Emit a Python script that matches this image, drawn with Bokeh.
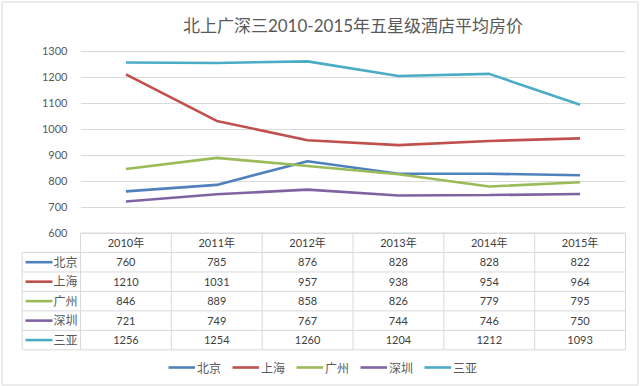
from bokeh.plotting import figure
from bokeh.models import (Range1d, FixedTicker, Legend, LegendItem, ColumnDataSource, Title)
from bokeh.core.properties import value
from bokeh.embed import file_html
from bokeh.resources import INLINE

# ---------------- data ----------------
years = ["2010年", "2011年", "2012年", "2013年", "2014年", "2015年"]
cities = ["北京", "上海", "广州", "深圳", "三亚"]
beijing = [760, 785, 876, 828, 828, 822]
shanghai = [1210, 1031, 957, 938, 954, 964]
guangzhou = [846, 889, 858, 826, 779, 795]
shenzhen = [721, 749, 767, 744, 746, 750]
sanya = [1256, 1254, 1260, 1204, 1212, 1093]
colors = ["#4F81BD", "#C0504D", "#9BBB59", "#8064A2", "#4BACC6"]
y_ticks = [600, 700, 800, 900, 1000, 1100, 1200, 1300]
title_text = "北上广深三2010-2015年五星级酒店平均房价"

series = [beijing, shanghai, guangzhou, shenzhen, sanya]

# ---------------- layout (pixels) ----------------
W, H = 640, 386
FL, FR, FT, FB = 80, 15, 40, 0
FW, FH = W - FL - FR, H - FT - FB
Y_TOP_PX, Y_600_PX = 10.5, 192.5          # positions of 1300 / 600 lines in frame
k = (Y_600_PX - Y_TOP_PX) / (y_ticks[-1] - y_ticks[0])
ROW_PX = 19.47
unit_px = FW / len(years)

FONT = "Lato, 'Noto Sans CJK SC'"
GRID = "#d9d9d9"
TXT = "#404040"

p = figure(width=W, height=H, output_backend="svg", toolbar_location=None,
           x_axis_location=None, min_border_left=FL, min_border_right=FR,
           min_border_top=FT, min_border_bottom=FB,
           x_range=Range1d(0, len(years)),
           y_range=Range1d(y_ticks[0] - (FH - Y_600_PX) / k, y_ticks[-1] + Y_TOP_PX / k),
           outline_line_color=None)
p.extra_y_ranges = {"table": Range1d((FH - Y_600_PX) / ROW_PX, -Y_600_PX / ROW_PX)}

p.title = Title(text=title_text, align="center", text_font_size="17px",
                text_color="#595959", text_font_style="normal", text_font=FONT)

p.yaxis.ticker = FixedTicker(ticks=y_ticks)
p.yaxis.axis_line_color = None
p.yaxis.major_tick_line_color = None
p.yaxis.minor_tick_line_color = None
p.yaxis.major_tick_out = 0
p.yaxis.major_label_standoff = 13
p.yaxis.major_label_text_font_size = "11px"
p.yaxis.major_label_text_color = "#595959"
p.yaxis.major_label_text_font = FONT
p.ygrid.ticker = FixedTicker(ticks=y_ticks)
p.ygrid.grid_line_color = GRID
p.xgrid.visible = False

xc = [i + 0.5 for i in range(len(years))]

# lines
renderers = []
for name, vals, c in zip(cities, series, colors):
    src = ColumnDataSource(dict(x=xc, y=vals))
    r = p.line("x", "y", source=src, line_color=c, line_width=2.6)
    renderers.append(r)

# table
lab_left = -58.3 / unit_px
sw0 = -55.0 / unit_px
sw1 = -28.0 / unit_px
txt0 = -27.0 / unit_px
n = len(cities)

# horizontal borders
p.segment(x0=[0] + [lab_left] * n, x1=[len(years)] * (n + 1),
          y0=list(range(n + 1)), y1=list(range(n + 1)),
          y_range_name="table", line_color=GRID, line_width=1, level="overlay")
# vertical borders
p.segment(x0=list(range(len(years) + 1)) + [lab_left],
          x1=list(range(len(years) + 1)) + [lab_left],
          y0=[0] * (len(years) + 1) + [1], y1=[n + 1] * (len(years) + 2),
          y_range_name="table", line_color=GRID, line_width=1, level="overlay")
p.segment(x0=[lab_left], x1=[len(years)], y0=[n + 1], y1=[n + 1],
          y_range_name="table", line_color=GRID, line_width=1, level="overlay")

p.text(x=xc, y=[0.5] * len(years), text=years, y_range_name="table",
       text_align="center", text_baseline="middle", text_font_size="11px",
       text_color=TXT, text_font=value(FONT))
for j, (name, vals, c) in enumerate(zip(cities, series, colors)):
    p.text(x=xc, y=[j + 1.5] * len(years), text=[str(v) for v in vals],
           y_range_name="table", text_align="center", text_baseline="middle",
           text_font_size="11px", text_color=TXT, text_font=value(FONT))
    p.segment(x0=[sw0], x1=[sw1], y0=[j + 1.5], y1=[j + 1.5], y_range_name="table",
              line_color=c, line_width=2.6, level="overlay")
    p.text(x=[txt0], y=[j + 1.5], text=[name], y_range_name="table",
           text_align="left", text_baseline="middle", text_font_size="12px",
           text_color="#595959", text_font=value(FONT), level="overlay")

legend = Legend(items=[LegendItem(label=nm, renderers=[r]) for nm, r in zip(cities, renderers)],
                orientation="horizontal", location=(88, 9), glyph_width=27, glyph_height=20,
                label_standoff=2, spacing=11, padding=0, margin=0,
                border_line_alpha=0, background_fill_alpha=0,
                label_text_font_size="12px", label_text_color="#595959",
                label_text_font=FONT)
p.add_layout(legend)

# outer chart border
def tpy(py):
    return (py - FT - Y_600_PX) / ROW_PX

p.quad(left=[(1.5 - FL) / unit_px], right=[(637.5 - FL) / unit_px],
       top=[tpy(1.5)], bottom=[tpy(384.5)], y_range_name="table",
       fill_color=None, line_color=GRID, line_width=1, level="overlay")

open("out.html", "w").write(file_html(p, INLINE))
